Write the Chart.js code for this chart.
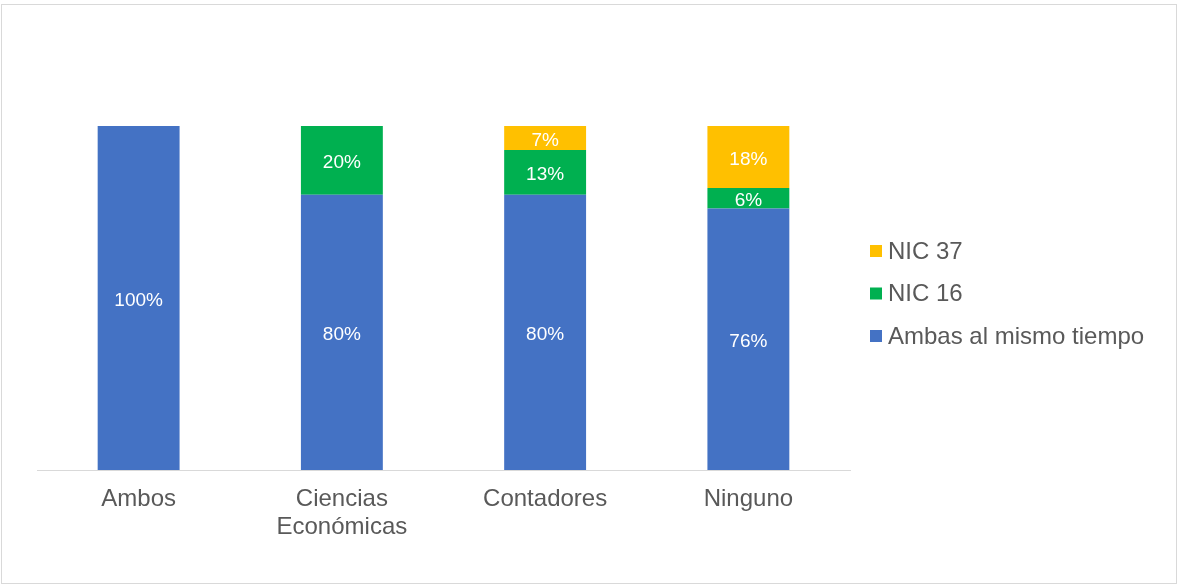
<!DOCTYPE html>
<html>
<head>
<meta charset="utf-8">
<script src="https://cdn.jsdelivr.net/npm/chart.js@4/dist/chart.umd.min.js"></script>
<style>
  html, body { margin: 0; padding: 0; background: #ffffff; }
  #wrap { width: 1177px; height: 584px; position: relative; }
</style>
</head>
<body>
<div id="wrap"><canvas id="c" width="1177" height="584"></canvas></div>
<script>
// Categories and series (percent of respondents)
const categories = ['Ambos', ['Ciencias', 'Económicas'], 'Contadores', 'Ninguno'];
const ambas = [100, 80, 80, 76];
const nic16 = [0, 20, 13, 6];
const nic37 = [0, 0, 7, 18];
const seriesNames = ['Ambas al mismo tiempo', 'NIC 16', 'NIC 37'];
const seriesColors = ['#4472C4', '#00B050', '#FFC000'];

const FONT = '"Liberation Sans", Arial, sans-serif';

// Segment value labels, centred in each stacked piece
const valueLabels = {
  id: 'valueLabels',
  afterDatasetsDraw(chart) {
    const ctx = chart.ctx;
    ctx.save();
    ctx.fillStyle = '#ffffff';
    ctx.font = '19px ' + FONT;
    ctx.textAlign = 'center';
    ctx.textBaseline = 'middle';
    chart.data.datasets.forEach((ds, di) => {
      const meta = chart.getDatasetMeta(di);
      meta.data.forEach((bar, i) => {
        const v = ds.data[i];
        if (!v) return;
        const p = bar.getProps(['x', 'y', 'base'], true);
        ctx.fillText(v + '%', p.x, (p.y + p.base) / 2 + 2.5);
      });
    });
    ctx.restore();
  }
};

// Right-hand legend (reverse order) and outer frame
const sideLegend = {
  id: 'sideLegend',
  afterDraw(chart) {
    const ctx = chart.ctx;
    ctx.save();
    ctx.strokeStyle = '#d9d9d9';
    ctx.lineWidth = 1;
    ctx.strokeRect(1.5, 4.5, 1175, 579);
    const rows = [2, 1, 0];
    const ys = [251, 293.5, 336];
    ctx.font = '24px ' + FONT;
    ctx.textBaseline = 'middle';
    ctx.textAlign = 'left';
    rows.forEach((di, k) => {
      const ds = chart.data.datasets[di];
      ctx.fillStyle = ds.backgroundColor;
      ctx.fillRect(870, ys[k] - 6, 12, 12);
      ctx.fillStyle = '#595959';
      ctx.fillText(ds.label, 888, ys[k] + 1);
    });
    ctx.restore();
  }
};

new Chart(document.getElementById('c'), {
  type: 'bar',
  data: {
    labels: categories,
    datasets: [
      { label: seriesNames[0], data: ambas, backgroundColor: seriesColors[0] },
      { label: seriesNames[1], data: nic16, backgroundColor: seriesColors[1] },
      { label: seriesNames[2], data: nic37, backgroundColor: seriesColors[2] }
    ]
  },
  options: {
    responsive: false,
    animation: false,
    layout: { padding: { left: 37, right: 327, top: 126, bottom: 0 } },
    datasets: { bar: { categoryPercentage: 1, barPercentage: 0.403, borderWidth: 0 } },
    plugins: { legend: { display: false }, tooltip: { enabled: false } },
    scales: {
      x: {
        stacked: true,
        grid: { display: false, drawTicks: false },
        border: { display: true, color: '#d9d9d9', width: 1 },
        ticks: { color: '#595959', font: { family: FONT, size: 24, lineHeight: 1.167 }, padding: 15, maxRotation: 0, autoSkip: false },
        afterFit(scale) { scale.height = 114; }
      },
      y: {
        stacked: true,
        display: false,
        min: 0,
        max: 100
      }
    }
  },
  plugins: [valueLabels, sideLegend]
});
</script>
</body>
</html>
